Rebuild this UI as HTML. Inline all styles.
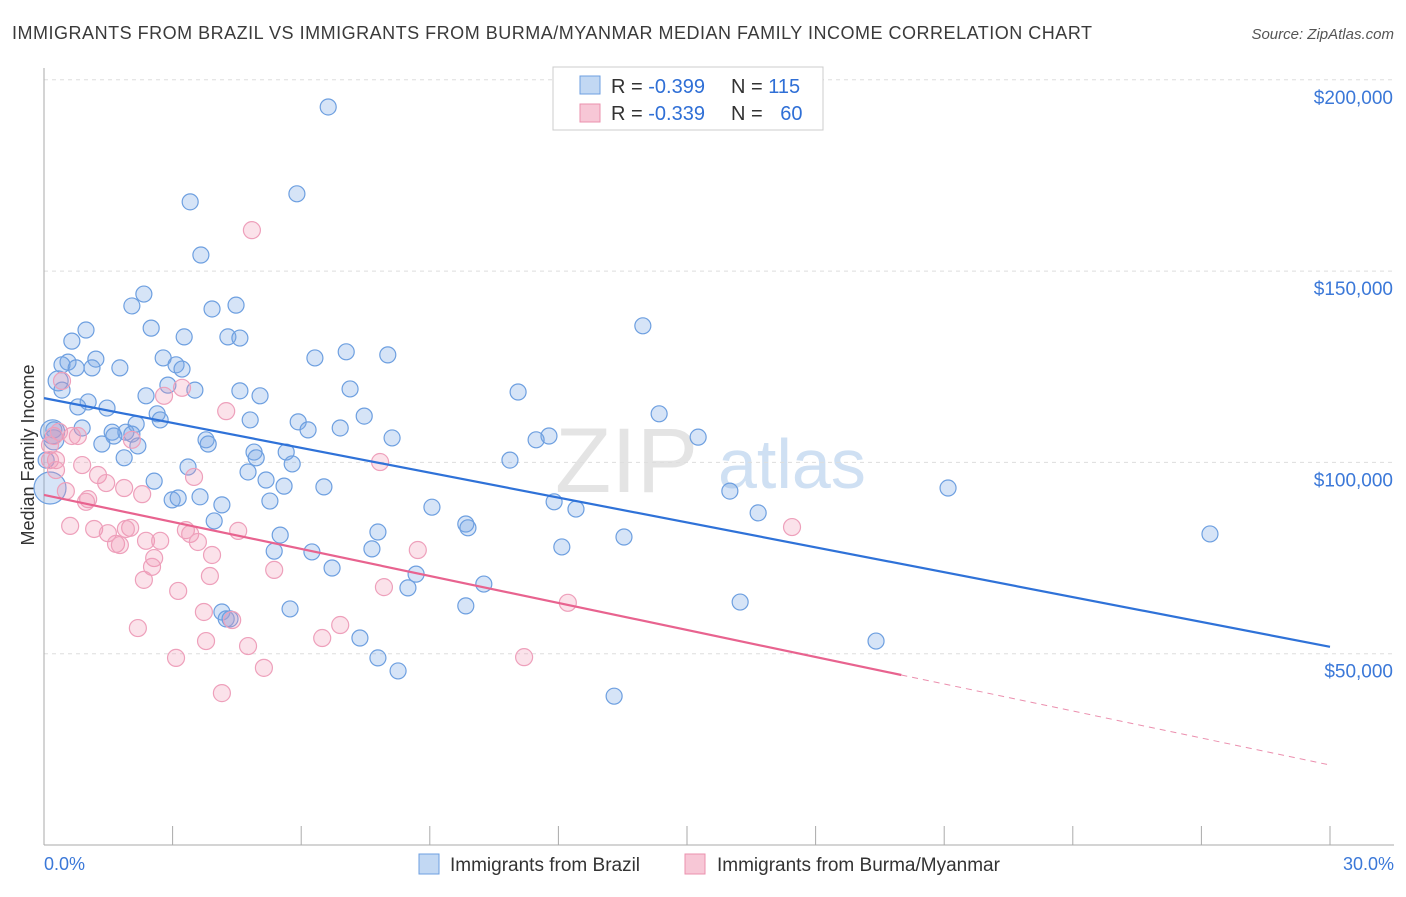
<!DOCTYPE html>
<html><head><meta charset="utf-8"><style>
body{margin:0;background:#fff;font-family:"Liberation Sans",sans-serif;}
svg text{font-family:"Liberation Sans",sans-serif;}
</style></head><body>
<svg id="chart" width="1406" height="892" xmlns="http://www.w3.org/2000/svg">
<text x="12" y="39" font-size="18" fill="#3a3a3a" textLength="1080">IMMIGRANTS FROM BRAZIL VS IMMIGRANTS FROM BURMA/MYANMAR MEDIAN FAMILY INCOME CORRELATION CHART</text>
<text x="1394" y="39" font-size="15" fill="#555" text-anchor="end" font-style="italic">Source: ZipAtlas.com</text>
<text x="34" y="455" font-size="18" fill="#333" text-anchor="middle" transform="rotate(-90 34 455)">Median Family Income</text>
<text x="555" y="492" font-size="92" fill="#e4e4e4" font-family="Liberation Serif">ZIP</text>
<text x="718" y="488" font-size="70" fill="#cfe0f3">atlas</text>
<g id="grid"></g><g id="axes"></g><g id="pts"></g><g id="lines"></g>
<g>
<rect x="553" y="67" width="270" height="63" fill="#fff" stroke="#ccc"/>
<rect x="580" y="76" width="20" height="18" fill="#c2d8f3" stroke="#6d9fe0"/>
<rect x="580" y="104" width="20" height="18" fill="#f7c7d6" stroke="#eb90ae"/>
<text x="611" y="93" font-size="20" fill="#333">R = <tspan fill="#2f6fd6">-0.399</tspan></text>
<text x="731" y="93" font-size="20" fill="#333">N = <tspan fill="#2f6fd6">115</tspan></text>
<text x="611" y="120" font-size="20" fill="#333">R = <tspan fill="#2f6fd6">-0.339</tspan></text>
<text x="731" y="120" font-size="20" fill="#333">N = <tspan fill="#2f6fd6" dx="12">60</tspan></text>
</g>
<g>
<rect x="419" y="854" width="20" height="20" fill="#c2d8f3" stroke="#6d9fe0"/>
<text x="450" y="871" font-size="19" fill="#333">Immigrants from Brazil</text>
<rect x="685" y="854" width="20" height="20" fill="#f7c7d6" stroke="#eb90ae"/>
<text x="717" y="871" font-size="19" fill="#333">Immigrants from Burma/Myanmar</text>
</g>
<text x="44" y="870" font-size="18" fill="#3b78d8">0.0%</text>
<text x="1394" y="870" font-size="18" fill="#3b78d8" text-anchor="end">30.0%</text>
</svg>
<script>
const yTicks=[50000,100000,150000,200000];
const yTickLabels=["$50,000","$100,000","$150,000","$200,000"];
const xTicks=[0,3,6,9,12,15,18,21,24,27,30];
const brazilX=[6.63,5.90,3.41,3.66,2.33,2.05,3.92,4.48,2.50,0.98,0.65,3.27,4.29,4.57,7.05,8.02,6.32,2.78,1.21,0.56,0.42,0.75,1.12,1.77,3.08,3.22,0.33,2.89,3.52,4.57,5.04,7.14,11.06,0.42,1.03,0.79,1.47,2.38,2.64,2.71,4.81,7.47,5.93,6.16,6.91,2.15,1.59,1.91,1.63,2.05,0.89,0.23,1.35,2.19,3.78,3.83,8.12,11.78,11.48,15.26,14.35,13.97,4.90,4.95,5.65,1.87,4.76,3.36,5.79,5.18,2.57,5.60,6.53,10.87,2.99,3.13,3.64,4.15,5.27,11.90,12.41,9.05,16.00,21.09,16.66,3.97,9.84,9.89,7.79,5.51,13.53,27.20,5.37,6.25,7.65,12.08,6.72,8.68,8.49,10.26,9.84,16.24,5.74,4.15,4.25,4.34,7.37,19.41,7.79,8.26,13.30,0.14,0.05,0.23,0.2];
const brazilY=[192.9,170.2,168.1,154.2,144.0,140.9,140.1,141.1,135.1,134.6,131.7,132.8,132.8,132.5,128.9,128.1,127.3,127.3,127.0,126.2,125.5,124.7,124.7,124.7,125.5,124.4,121.3,120.2,118.9,118.7,117.4,119.2,118.4,118.9,115.8,114.5,114.2,117.4,112.7,111.1,111.1,112.1,110.6,108.5,109.0,110.0,107.9,107.9,106.9,107.4,109.0,108.5,104.8,104.3,105.9,104.8,106.4,106.9,105.9,106.6,112.7,135.7,102.7,101.2,102.7,101.2,97.5,98.8,99.6,95.4,95.1,93.8,93.6,100.6,90.2,90.7,91.0,88.9,89.9,89.7,87.8,88.3,92.5,93.3,86.8,84.7,83.9,82.9,81.8,81.0,80.5,81.3,76.8,76.6,77.4,77.9,72.4,70.8,67.2,68.2,62.5,63.5,61.7,60.9,59.1,59.1,54.1,53.3,48.9,45.5,38.9,93.3,100.6,105.9,108.0];
const brazilR=[8,8,8,8,8,8,8,8,8,8,8,8,8,8,8,8,8,8,8,8,8,8,8,8,8,8,10,8,8,8,8,8,8,8,8,8,8,8,8,8,8,8,8,8,8,8,8,8,8,8,8,8,8,8,8,8,8,8,8,8,8,8,8,8,8,8,8,8,8,8,8,8,8,8,8,8,8,8,8,8,8,8,8,8,8,8,8,8,8,8,8,8,8,8,8,8,8,8,8,8,8,8,8,8,8,8,8,8,8,8,8,16,8,10,12];
const burmaX=[4.85,0.42,3.22,2.80,4.25,0.23,0.65,0.79,2.05,0.14,0.28,7.84,0.89,1.26,3.50,1.45,1.87,0.51,1.03,2.29,0.98,0.61,1.17,2.01,1.91,3.31,3.41,4.53,17.45,1.49,3.59,2.38,1.68,1.77,2.71,3.92,2.57,2.52,5.37,2.33,3.87,8.72,3.13,7.93,12.22,3.73,4.39,2.19,6.91,6.49,3.78,4.76,3.08,11.20,5.13,4.15,0.14,0.28,0.35];
const burmaY=[160.7,121.3,119.5,117.4,113.4,106.9,106.9,106.9,105.9,104.5,100.6,100.1,99.3,96.7,96.2,94.6,93.3,92.5,90.4,91.7,89.7,83.4,82.6,82.9,82.6,82.3,81.3,82.1,83.1,81.5,79.2,79.5,78.7,78.4,79.5,75.8,75.0,72.7,71.9,69.3,70.3,77.1,66.4,67.4,63.3,60.9,58.8,56.7,57.5,54.1,53.3,52.0,48.9,49.1,46.3,39.7,100.6,98.0,108.0];
const brazilTrend=[116.8,51.8];
const burmaTrend=[91.5,20.9];
const burmaSolidEnd=20.0;
const X0=44,X1=1330,Y0=845,PXK=191.3/50;
function sx(v){return X0+(v/30)*(X1-X0);}
function sy(k){return Y0-k*PXK;}
const NS="http://www.w3.org/2000/svg";
function mk(tag,attrs,parent){const e=document.createElementNS(NS,tag);for(const k in attrs)e.setAttribute(k,attrs[k]);document.getElementById(parent).appendChild(e);return e;}
yTicks.forEach((t,i)=>{
 const y=sy(t/1000);
 const g=mk('line',{x1:44,x2:1394,y1:y,y2:y,stroke:'#ddd','stroke-dasharray':'4,4'},'grid');
 
 
 const tx=mk('text',{x:1393,y:y+24,'font-size':19,fill:'#3b78d8','text-anchor':'end'},'grid');
 tx.textContent=yTickLabels[i];
 
 
});
const ax=mk('line',{x1:44,x2:44,y1:68,y2:845,stroke:'#aaa'},'axes');


const bx=mk('line',{x1:44,x2:1394,y1:845,y2:845,stroke:'#aaa'},'axes');


xTicks.forEach(t=>{
 const x=sx(t);
 const l=mk('line',{x1:x,x2:x,y1:826,y2:845,stroke:'#aaa'},'axes');
 
 
});
brazilX.forEach((v,i)=>{
 const c=mk('circle',{cx:sx(v),cy:sy(brazilY[i]),r:brazilR[i],fill:'rgba(120,166,228,0.3)',stroke:'#6d9fe0','stroke-width':1.2},'pts');
 
 
});
burmaX.forEach((v,i)=>{
 const c=mk('circle',{cx:sx(v),cy:sy(burmaY[i]),r:8.5,fill:'rgba(240,150,180,0.28)',stroke:'#eea0bb','stroke-width':1.2},'pts');
 
 
});
const bl=mk('line',{x1:sx(0),y1:sy(brazilTrend[0]),x2:sx(30),y2:sy(brazilTrend[1]),stroke:'#2f72d8','stroke-width':2.2},'lines');


const pm=burmaTrend[0]+(burmaTrend[1]-burmaTrend[0])*burmaSolidEnd/30;
const pl=mk('line',{x1:sx(0),y1:sy(burmaTrend[0]),x2:sx(burmaSolidEnd),y2:sy(pm),stroke:'#e8638f','stroke-width':2.2},'lines');


const pd=mk('line',{x1:sx(burmaSolidEnd),y1:sy(pm),x2:sx(30),y2:sy(burmaTrend[1]),stroke:'#eb8fae','stroke-width':1,'stroke-dasharray':'6,5'},'lines');


</script>
</body></html>
